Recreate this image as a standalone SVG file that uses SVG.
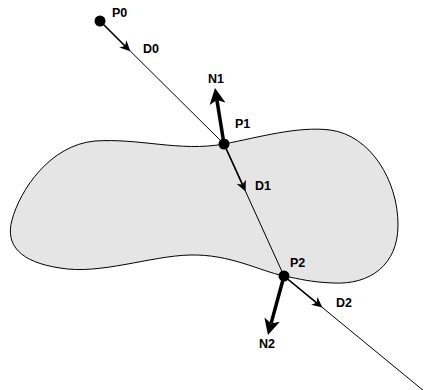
<svg xmlns="http://www.w3.org/2000/svg" width="427" height="390" viewBox="0 0 427 390">
  <style>
    .lbl { font-family: "Liberation Sans", Arial, Helvetica, sans-serif; font-weight: bold; font-size: 12.5px; fill: #000; }
    .ray { fill: none; stroke: #000; stroke-width: 1; }
    .dir { fill: none; stroke: #000; stroke-width: 1.6; marker-end: url(#dirHead); }
    .nrm { fill: none; stroke: #000; stroke-width: 3.5; marker-end: url(#nrmHead); }
    .pt { fill: #000; }
  </style>
  <defs>
    <marker id="dirHead" markerUnits="userSpaceOnUse" markerWidth="12" markerHeight="12" refX="3" refY="0" viewBox="0 -6 12 12" orient="auto" overflow="visible">
      <path d="M10.5,0 L0,-5 L3,0 L0,5 Z" fill="#000"/>
    </marker>
    <marker id="nrmHead" markerUnits="userSpaceOnUse" markerWidth="18" markerHeight="18" refX="4" refY="0" viewBox="0 -9 18 18" orient="auto" overflow="visible">
      <path d="M16,0 L0,-8 L4,0 L0,8 Z" fill="#000"/>
    </marker>
  </defs>

  <!-- surface -->
  <g id="surface">
    <path d="M224,144 C260,137 298,126 330,130 C370,135 398,180 398,225 C398,265 370,285 333,283 C310,282 300,279 284,276 C260,271 230,254 190,255 C150,256 100,275 60,268 C20,262 5,245 12,220 C20,190 50,145 95,141 C140,138 180,152 224,144 Z" fill="#e5e5e5" stroke="#000" stroke-width="1"/>
  </g>

  <!-- connectors: ray, direction vectors and normals -->
  <g id="connectors">
    <polyline class="ray" points="100,21 224,144 284,276 427,393.5"/>
    <line class="dir" x1="100" y1="21" x2="125" y2="46"/>
    <line class="dir" x1="224" y1="144" x2="242.5" y2="184.6"/>
    <line class="dir" x1="284" y1="276" x2="316.6" y2="302.8"/>
    <line class="nrm" x1="224" y1="144" x2="216.9" y2="99.9"/>
    <line class="nrm" x1="284" y1="276" x2="271.1" y2="323.4"/>
  </g>

  <g id="p0">
    <circle class="pt" cx="100" cy="21" r="5.5"/>
    <text class="lbl" x="112" y="17">P0</text>
  </g>
  <g id="p1">
    <circle class="pt" cx="224" cy="144" r="5.5"/>
    <text class="lbl" x="235" y="128">P1</text>
  </g>
  <g id="p2">
    <circle class="pt" cx="284" cy="276" r="5.5"/>
    <text class="lbl" x="290" y="267">P2</text>
  </g>
  <g id="d0"><text class="lbl" x="143" y="53">D0</text></g>
  <g id="d1"><text class="lbl" x="255" y="190">D1</text></g>
  <g id="d2"><text class="lbl" x="336" y="307">D2</text></g>
  <g id="n1"><text class="lbl" x="208" y="83">N1</text></g>
  <g id="n2"><text class="lbl" x="259" y="348">N2</text></g>
</svg>
